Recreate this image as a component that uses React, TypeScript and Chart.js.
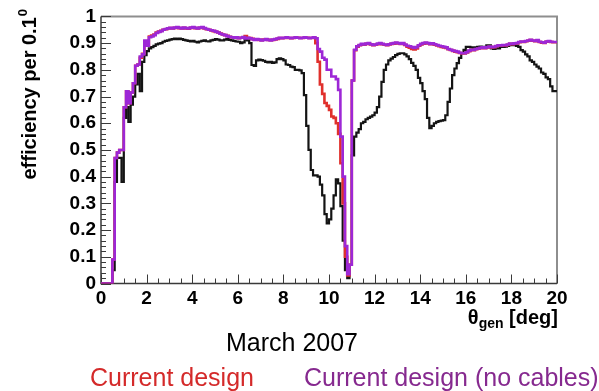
import React, { useEffect, useRef } from 'react';
import { Chart, registerables } from 'chart.js';

Chart.register(...registerables);

// ---- axis definition ----
const BIN_WIDTH = 0.1;
const X_MIN = 0;
const X_MAX = 20;
const Y_MIN = 0;
const Y_MAX = 1;
const X_TICK_STEP = 2;
const X_MINOR_STEP = 0.5;
const Y_TICK_STEP = 0.1;
const Y_MINOR_STEP = 0.02;

// ---- texts ----
const X_TITLE_MAIN = 'θ';
const X_TITLE_SUB = 'gen';
const X_TITLE_UNIT = ' [deg]';
const Y_TITLE_MAIN = 'efficiency per 0.1';
const Y_TITLE_SUP = '0';
const DATE_LABEL = 'March 2007';
const SERIES_LABELS = ['Previous design', 'Current design', 'Current design (no cables)'];

// ---- efficiency per 0.1 deg bin, theta_gen from 0 to 20 deg ----
const blackEff = [
  0, 0, 0, 0, 0, 0, 0.05, 0.38, 0.47, 0.47,
  0.38, 0.62, 0.66, 0.605, 0.67, 0.70, 0.745, 0.785, 0.72, 0.83,
  0.855, 0.87, 0.88, 0.885, 0.89, 0.895, 0.898, 0.90, 0.905, 0.908,
  0.91, 0.913, 0.915, 0.917, 0.915, 0.917, 0.915, 0.912, 0.91, 0.908,
  0.906, 0.908, 0.905, 0.903, 0.906, 0.908, 0.91, 0.907, 0.906, 0.91,
  0.912, 0.915, 0.913, 0.91, 0.91, 0.913, 0.915, 0.912, 0.91, 0.908,
  0.906, 0.905, 0.90, 0.903, 0.915, 0.91, 0.90, 0.818, 0.815, 0.835,
  0.838, 0.836, 0.834, 0.83, 0.828, 0.83, 0.826, 0.828, 0.84, 0.843,
  0.84, 0.835, 0.82, 0.818, 0.812, 0.81, 0.80, 0.80, 0.798, 0.788,
  0.705, 0.59, 0.50, 0.425, 0.405, 0.405, 0.40, 0.37, 0.33, 0.26,
  0.225, 0.24, 0.28, 0.33, 0.39, 0.375, 0.29, 0.16, 0.05, 0.02,
  0.07, 0.48, 0.55, 0.565, 0.578, 0.60, 0.605, 0.615, 0.62, 0.625,
  0.63, 0.64, 0.66, 0.70, 0.755, 0.80, 0.82, 0.835, 0.842, 0.848,
  0.855, 0.86, 0.862, 0.862, 0.858, 0.85, 0.84, 0.826, 0.815, 0.80,
  0.77, 0.75, 0.72, 0.69, 0.62, 0.582, 0.59, 0.60, 0.605, 0.608,
  0.61, 0.612, 0.63, 0.68, 0.73, 0.78, 0.805, 0.825, 0.845, 0.862,
  0.875, 0.886, 0.886, 0.884, 0.883, 0.884, 0.886, 0.887, 0.886, 0.886,
  0.892, 0.892, 0.88, 0.878, 0.88, 0.88, 0.886, 0.886, 0.887, 0.89,
  0.892, 0.893, 0.892, 0.89, 0.886, 0.874, 0.868, 0.858, 0.85, 0.835,
  0.83, 0.82, 0.812, 0.805, 0.79, 0.785, 0.772, 0.765, 0.738, 0.72,
];

const redEff = [
  0, 0, 0, 0, 0, 0, 0.09, 0.47, 0.49, 0.50,
  0.50, 0.66, 0.72, 0.675, 0.715, 0.75, 0.815, 0.82, 0.845, 0.86,
  0.905, 0.89, 0.925, 0.928, 0.932, 0.94, 0.943, 0.946, 0.95, 0.952,
  0.955, 0.956, 0.955, 0.957, 0.958, 0.956, 0.955, 0.957, 0.955, 0.954,
  0.957, 0.958, 0.956, 0.955, 0.957, 0.958, 0.955, 0.952, 0.95, 0.947,
  0.945, 0.942, 0.94, 0.936, 0.932, 0.93, 0.927, 0.924, 0.922, 0.921,
  0.921, 0.918, 0.92, 0.922, 0.926, 0.92, 0.919, 0.916, 0.913, 0.914,
  0.912, 0.911, 0.913, 0.914, 0.912, 0.911, 0.912, 0.914, 0.916, 0.919,
  0.918, 0.919, 0.92, 0.919, 0.918, 0.919, 0.921, 0.92, 0.919, 0.919,
  0.921, 0.92, 0.919, 0.919, 0.921, 0.90, 0.83, 0.745, 0.71, 0.676,
  0.665, 0.65, 0.625, 0.62, 0.60, 0.56, 0.45, 0.30, 0.10, 0.03,
  0.07, 0.76, 0.873, 0.887, 0.892, 0.895, 0.894, 0.897, 0.898, 0.895,
  0.892, 0.894, 0.896, 0.898, 0.896, 0.894, 0.892, 0.895, 0.897, 0.898,
  0.90, 0.899, 0.897, 0.898, 0.893, 0.887, 0.883, 0.878, 0.876, 0.88,
  0.89, 0.895, 0.898, 0.90, 0.899, 0.896, 0.897, 0.894, 0.891, 0.888,
  0.886, 0.884, 0.882, 0.877, 0.874, 0.871, 0.868, 0.866, 0.863, 0.861,
  0.861, 0.865, 0.87, 0.874, 0.873, 0.877, 0.879, 0.881, 0.883, 0.881,
  0.884, 0.886, 0.884, 0.885, 0.888, 0.891, 0.89, 0.892, 0.891, 0.894,
  0.897, 0.896, 0.898, 0.899, 0.903, 0.905, 0.904, 0.907, 0.909, 0.911,
  0.909, 0.907, 0.91, 0.904, 0.902, 0.901, 0.905, 0.907, 0.904, 0.903,
];

const purpleEff = [
  0, 0, 0, 0, 0, 0, 0.09, 0.47, 0.49, 0.50,
  0.50, 0.66, 0.72, 0.675, 0.715, 0.75, 0.815, 0.82, 0.85, 0.858,
  0.91, 0.89, 0.922, 0.925, 0.93, 0.938, 0.942, 0.945, 0.95, 0.953,
  0.955, 0.957, 0.955, 0.958, 0.96, 0.957, 0.955, 0.958, 0.956, 0.955,
  0.958, 0.96, 0.957, 0.955, 0.958, 0.96, 0.956, 0.953, 0.95, 0.948,
  0.946, 0.943, 0.94, 0.935, 0.932, 0.93, 0.926, 0.924, 0.922, 0.92,
  0.922, 0.918, 0.92, 0.923, 0.917, 0.92, 0.918, 0.915, 0.912, 0.915,
  0.913, 0.91, 0.912, 0.915, 0.912, 0.91, 0.913, 0.915, 0.917, 0.92,
  0.918, 0.92, 0.922, 0.92, 0.918, 0.92, 0.922, 0.92, 0.918, 0.92,
  0.922, 0.92, 0.918, 0.92, 0.922, 0.918, 0.878, 0.868, 0.845, 0.838,
  0.80, 0.80, 0.775, 0.775, 0.765, 0.725, 0.55, 0.40, 0.14, 0.035,
  0.07, 0.76, 0.875, 0.888, 0.893, 0.897, 0.895, 0.898, 0.90, 0.896,
  0.893, 0.895, 0.898, 0.90, 0.897, 0.895, 0.893, 0.896, 0.898, 0.90,
  0.902, 0.90, 0.898, 0.90, 0.895, 0.89, 0.888, 0.885, 0.882, 0.885,
  0.892, 0.897, 0.90, 0.902, 0.90, 0.897, 0.899, 0.896, 0.893, 0.89,
  0.888, 0.886, 0.884, 0.878, 0.875, 0.872, 0.87, 0.868, 0.864, 0.862,
  0.862, 0.866, 0.872, 0.875, 0.874, 0.878, 0.88, 0.882, 0.884, 0.882,
  0.885, 0.887, 0.885, 0.886, 0.889, 0.892, 0.891, 0.893, 0.892, 0.895,
  0.898, 0.897, 0.899, 0.90, 0.904, 0.906, 0.905, 0.908, 0.91, 0.912,
  0.91, 0.908, 0.911, 0.905, 0.903, 0.902, 0.906, 0.908, 0.905, 0.904,
];

// ---- styles ----
const COLORS = {
  black: '#141414',
  red: '#e0302c',
  purple: '#9d27d6',
  redText: '#d42a2a',
  purpleText: '#86298f',
  frame: '#8e8e8e',
  axis: '#3a3a3a',
};
const FONT = '"Liberation Sans", Arial, Helvetica, sans-serif';

function toSteps(values: number[]) {
  const pts = values.map((v, i) => ({ x: X_MIN + i * BIN_WIDTH, y: v }));
  pts.push({ x: X_MIN + values.length * BIN_WIDTH, y: values[values.length - 1] });
  return pts;
}

const rootStylePlugin = {
  id: 'rootStyle',
  beforeDatasetsDraw(chart: any) {
    const { ctx, chartArea: a, scales } = chart;
    const x = scales.x;
    const y = scales.y;
    ctx.save();
    ctx.strokeStyle = COLORS.frame;
    ctx.lineWidth = 2;
    ctx.beginPath();
    ctx.moveTo(a.left, a.top);
    ctx.lineTo(a.right, a.top);
    ctx.lineTo(a.right, a.bottom);
    ctx.stroke();
    ctx.strokeStyle = COLORS.axis;
    ctx.lineWidth = 1.5;
    ctx.beginPath();
    ctx.moveTo(a.left, a.top);
    ctx.lineTo(a.left, a.bottom);
    ctx.lineTo(a.right, a.bottom);
    ctx.stroke();
    ctx.lineWidth = 1;
    ctx.beginPath();
    const nx = Math.round((X_MAX - X_MIN) / X_MINOR_STEP);
    const perMajorX = Math.round(X_TICK_STEP / X_MINOR_STEP);
    for (let k = 0; k <= nx; k++) {
      const px = Math.round(x.getPixelForValue(X_MIN + k * X_MINOR_STEP)) + 0.5;
      const len = k % perMajorX === 0 ? 9 : 5;
      ctx.moveTo(px, a.bottom);
      ctx.lineTo(px, a.bottom - len);
    }
    const ny = Math.round((Y_MAX - Y_MIN) / Y_MINOR_STEP);
    const perMajorY = Math.round(Y_TICK_STEP / Y_MINOR_STEP);
    for (let k = 0; k <= ny; k++) {
      const py = Math.round(y.getPixelForValue(Y_MIN + k * Y_MINOR_STEP)) + 0.5;
      const len = k % perMajorY === 0 ? 10 : 5;
      ctx.moveTo(a.left, py);
      ctx.lineTo(a.left + len, py);
    }
    ctx.stroke();
    ctx.restore();
  },
  afterDraw(chart: any) {
    const { ctx, chartArea: a } = chart;
    ctx.save();
    ctx.fillStyle = '#000';
    ctx.textBaseline = 'alphabetic';
    const bigX = 'bold 20px ' + FONT;
    const subX = 'bold 14px ' + FONT;
    ctx.font = bigX;
    const wUnit = ctx.measureText(X_TITLE_UNIT).width;
    const wMain = ctx.measureText(X_TITLE_MAIN).width;
    ctx.font = subX;
    const wSub = ctx.measureText(X_TITLE_SUB).width;
    const xr = a.right + 1;
    const baseX = a.bottom + 40;
    ctx.font = bigX;
    ctx.fillText(X_TITLE_UNIT, xr - wUnit, baseX);
    ctx.font = subX;
    ctx.fillText(X_TITLE_SUB, xr - wUnit - wSub, baseX + 4);
    ctx.font = bigX;
    ctx.fillText(X_TITLE_MAIN, xr - wUnit - wSub - wMain, baseX);

    const bigY = 'bold 20px ' + FONT;
    const supY = 'bold 13px ' + FONT;
    ctx.font = bigY;
    const w1 = ctx.measureText(Y_TITLE_MAIN).width;
    ctx.font = supY;
    const w2 = ctx.measureText(Y_TITLE_SUP).width;
    ctx.translate(36, 0);
    ctx.rotate(-Math.PI / 2);
    const uEnd = -9;
    const u0 = uEnd - w1 - w2 - 1;
    ctx.font = bigY;
    ctx.fillText(Y_TITLE_MAIN, u0, 0);
    ctx.font = supY;
    ctx.fillText(Y_TITLE_SUP, u0 + w1 + 1, -9);
    ctx.setTransform(1, 0, 0, 1, 0, 0);

    ctx.font = '25px ' + FONT;
    ctx.fillStyle = '#000';
    ctx.fillText(DATE_LABEL, 226, 351);

    const ds = chart.data.datasets;
    ctx.fillStyle = COLORS.redText;
    ctx.fillText(ds[1].label, 90, 386);
    ctx.fillStyle = COLORS.purpleText;
    ctx.fillText(ds[2].label, 304, 386);
    ctx.restore();
  },
};

export default function App() {
  const ref = useRef<HTMLCanvasElement | null>(null);

  useEffect(() => {
    if (!ref.current) return;
    const common = {
      pointRadius: 0,
      pointHoverRadius: 0,
      stepped: 'after' as const,
      fill: false,
      tension: 0,
    };
    const chart = new Chart(ref.current, {
      type: 'line',
      data: {
        datasets: [
          { ...common, label: SERIES_LABELS[0], data: toSteps(blackEff), borderColor: COLORS.black, borderWidth: 2.2, order: 3 },
          { ...common, label: SERIES_LABELS[1], data: toSteps(redEff), borderColor: COLORS.red, borderWidth: 2.6, order: 2 },
          { ...common, label: SERIES_LABELS[2], data: toSteps(purpleEff), borderColor: COLORS.purple, borderWidth: 2.6, order: 1 },
        ],
      },
      options: {
        animation: false,
        responsive: false,
        devicePixelRatio: 1,
        layout: { padding: { left: 0, right: 42, top: 12, bottom: 0 } },
        plugins: { legend: { display: false }, tooltip: { enabled: false } },
        scales: {
          x: {
            type: 'linear',
            min: X_MIN,
            max: X_MAX,
            grid: { display: false, drawTicks: false },
            border: { display: false },
            ticks: {
              stepSize: X_TICK_STEP,
              color: '#000',
              padding: 4,
              maxRotation: 0,
              font: { family: FONT, weight: 'bold', size: 19 },
              callback: (v: any) => String(Math.round(Number(v))),
            },
            afterFit: (s: any) => { s.height = 107.5; },
          },
          y: {
            type: 'linear',
            min: Y_MIN,
            max: Y_MAX,
            grid: { display: false, drawTicks: false },
            border: { display: false },
            ticks: {
              stepSize: Y_TICK_STEP,
              color: '#000',
              padding: 5,
              font: { family: FONT, weight: 'bold', size: 19 },
              callback: (v: any) => String(Number(Number(v).toFixed(1))),
            },
            afterFit: (s: any) => { s.width = 101; },
          },
        },
      },
      plugins: [rootStylePlugin],
    });
    return () => chart.destroy();
  }, []);

  return (
    <div style={{ position: 'fixed', left: 0, top: 0, width: 599, height: 391, background: '#fff' }}>
      <canvas ref={ref} width={599} height={391} style={{ display: 'block', width: 599, height: 391 }} />
    </div>
  );
}
